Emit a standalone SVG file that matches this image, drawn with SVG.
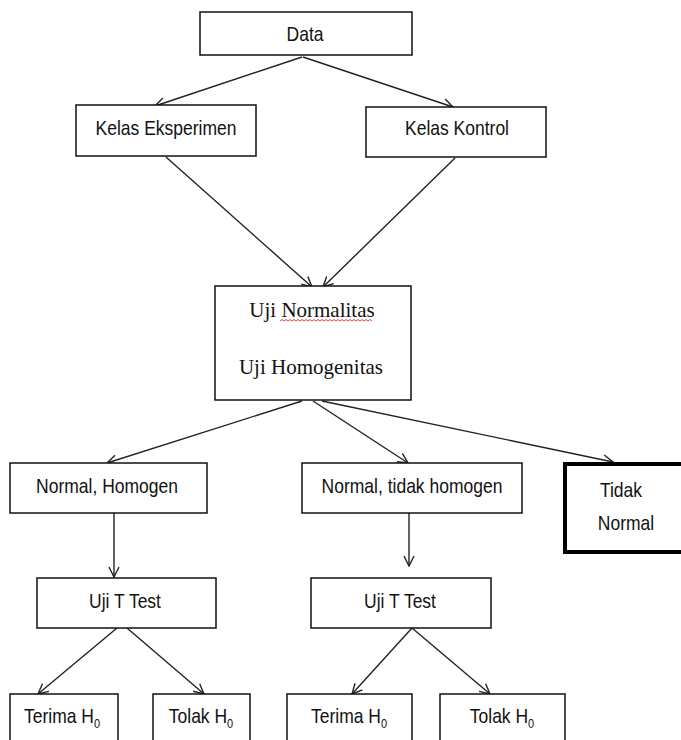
<svg xmlns="http://www.w3.org/2000/svg" width="681" height="740" viewBox="0 0 681 740">
<defs>
<style>
.box{fill:#fff;stroke:#111;stroke-width:1.5}
.thick{fill:#fff;stroke:#000;stroke-width:4}
.t{font-family:"Liberation Sans",Arial,sans-serif;font-size:17.5px;fill:#111;text-anchor:middle}
.s{font-family:"Liberation Serif","Times New Roman",serif;font-size:21px;fill:#111;text-anchor:middle}
.sub{font-size:11px}
.c{stroke:#222;stroke-width:1.4;fill:none;marker-end:url(#a)}
</style>
<marker id="a" viewBox="0 0 12 12" refX="11" refY="6" markerWidth="12" markerHeight="12" markerUnits="userSpaceOnUse" orient="auto">
<path d="M1,1 L11,6 L1,11" fill="none" stroke="#222" stroke-width="1.4"/>
</marker>
</defs>
<rect width="681" height="740" fill="#fff"/>
<g id="connectors">
<line class="c" x1="302" y1="57" x2="155" y2="106"/>
<line class="c" x1="303" y1="57" x2="453" y2="107"/>
<line class="c" x1="166" y1="157" x2="312" y2="287"/>
<line class="c" x1="455" y1="158" x2="323" y2="287"/>
<line class="c" x1="302" y1="401" x2="107" y2="463"/>
<line class="c" x1="313" y1="401" x2="408" y2="463"/>
<line class="c" x1="322" y1="401" x2="613" y2="462"/>
<line class="c" x1="114" y1="513" x2="114" y2="577"/>
<line class="c" x1="409" y1="513" x2="409" y2="566"/>
<line class="c" x1="117" y1="628" x2="38" y2="694"/>
<line class="c" x1="127" y1="628" x2="204" y2="694"/>
<line class="c" x1="412" y1="628" x2="352" y2="694"/>
<line class="c" x1="412" y1="628" x2="490" y2="694"/>
</g>
<g id="data">
<rect class="box" x="200" y="12" width="212" height="43"/>
<text class="t" transform="translate(305,41) scale(1,1.13)">Data</text>
</g>
<g id="kelas-eksperimen">
<rect class="box" x="76" y="105" width="180" height="51"/>
<text class="t" transform="translate(166,135) scale(1,1.13)">Kelas Eksperimen</text>
</g>
<g id="kelas-kontrol">
<rect class="box" x="366" y="107" width="180" height="50"/>
<text class="t" transform="translate(457,135) scale(1,1.13)">Kelas Kontrol</text>
</g>
<g id="uji">
<rect class="box" x="215" y="286" width="196" height="114"/>
<text class="s" x="312" y="317">Uji Normalitas</text>
<path d="M280,321 l2,-1.5 l2,1.5 l2,-1.5 l2,1.5 l2,-1.5 l2,1.5 l2,-1.5 l2,1.5 l2,-1.5 l2,1.5 l2,-1.5 l2,1.5 l2,-1.5 l2,1.5 l2,-1.5 l2,1.5 l2,-1.5 l2,1.5 l2,-1.5 l2,1.5 l2,-1.5 l2,1.5 l2,-1.5 l2,1.5 l2,-1.5 l2,1.5 l2,-1.5 l2,1.5 l2,-1.5 l2,1.5 l2,-1.5 l2,1.5 l2,-1.5 l2,1.5 l2,-1.5 l2,1.5 l2,-1.5 l2,1.5 l2,-1.5 l2,1.5 l2,-1.5 l2,1.5 l2,-1.5 l2,1.5 l2,-1.5 l2,1.5" fill="none" stroke="#e03030" stroke-width="0.9"/>
<text class="s" x="311" y="374">Uji Homogenitas</text>
</g>
<g id="normal-homogen">
<rect class="box" x="10" y="463" width="197" height="50"/>
<text class="t" transform="translate(107,493) scale(1,1.13)">Normal, Homogen</text>
</g>
<g id="normal-tidak-homogen">
<rect class="box" x="302" y="463" width="220" height="50"/>
<text class="t" transform="translate(412,493) scale(1,1.13)">Normal, tidak homogen</text>
</g>
<g id="tidak-normal">
<rect class="thick" x="565" y="464" width="130" height="88"/>
<text class="t" transform="translate(621,497) scale(1,1.13)">Tidak</text>
<text class="t" transform="translate(626,530) scale(1,1.13)">Normal</text>
</g>
<g id="uji-t-left">
<rect class="box" x="37" y="578" width="179" height="50"/>
<text class="t" transform="translate(125,608) scale(1,1.13)">Uji T Test</text>
</g>
<g id="uji-t-right">
<rect class="box" x="311" y="578" width="180" height="50"/>
<text class="t" transform="translate(400,608) scale(1,1.13)">Uji T Test</text>
</g>
<g id="terima-left">
<rect class="box" x="10" y="694" width="108" height="70"/>
<text class="t" transform="translate(62,723) scale(1,1.13)">Terima H<tspan class="sub" dy="4">0</tspan></text>
</g>
<g id="tolak-left">
<rect class="box" x="153" y="694" width="97" height="70"/>
<text class="t" transform="translate(201,723) scale(1,1.13)">Tolak H<tspan class="sub" dy="4">0</tspan></text>
</g>
<g id="terima-right">
<rect class="box" x="287" y="694" width="125" height="70"/>
<text class="t" transform="translate(349,723) scale(1,1.13)">Terima H<tspan class="sub" dy="4">0</tspan></text>
</g>
<g id="tolak-right">
<rect class="box" x="440" y="694" width="125" height="70"/>
<text class="t" transform="translate(502,723) scale(1,1.13)">Tolak H<tspan class="sub" dy="4">0</tspan></text>
</g>
</svg>
